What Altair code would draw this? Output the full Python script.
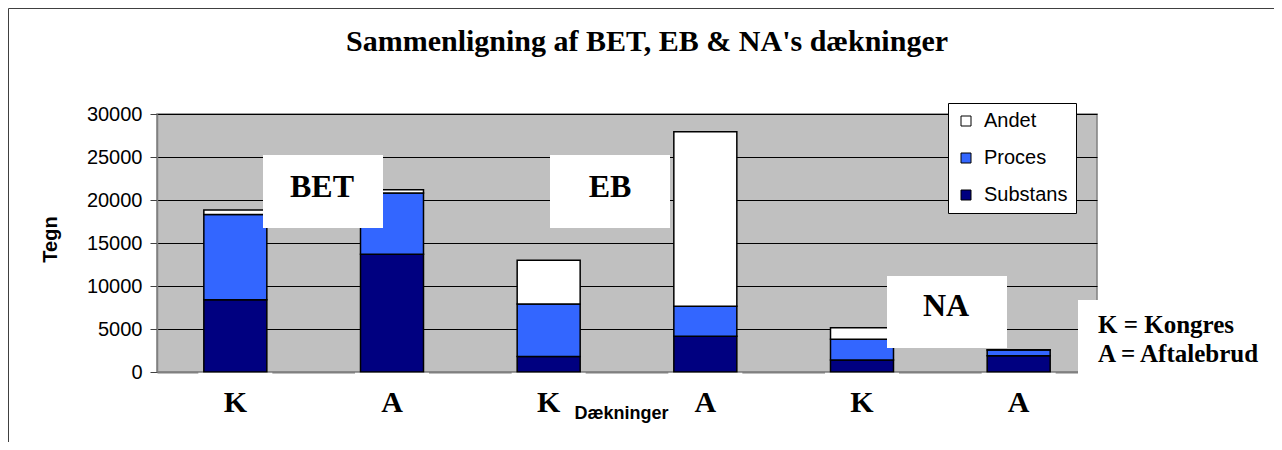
import altair as alt
import pandas as pd

# ---- data ----
groups = ["BET", "BET", "EB", "EB", "NA", "NA"]
kinds = ["K", "A", "K", "A", "K", "A"]
substans = [8400, 13700, 1800, 4150, 1400, 1900]
proces = [9900, 7100, 6100, 3500, 2400, 650]
andet = [550, 400, 5100, 20300, 1350, 50]
series = ["Substans", "Proces", "Andet"]
legend_order = ["Andet", "Proces", "Substans"]
legend_colors = ["#FFFFFF", "#3366FF", "#000080"]
y_ticks = [0, 5000, 10000, 15000, 20000, 25000, 30000]
group_labels = ["BET", "EB", "NA"]
key_lines = ["K = Kongres", "A = Aftalebrud"]
title_text = "Sammenligning af BET, EB & NA's dækninger"

cats = [f"{g}-{k}" for g, k in zip(groups, kinds)]
rows = []
for i, c in enumerate(cats):
    for j, (s, vals) in enumerate(zip(series, [substans, proces, andet])):
        rows.append({"cat": c, "serie": s, "value": vals[i], "ord": j})
df = pd.DataFrame(rows)
one = pd.DataFrame({"a": [0]})

SERIF = "Liberation Serif"
SANS = "Liberation Sans"

x_enc = alt.X(
    "cat:N",
    sort=cats,
    scale=alt.Scale(domain=cats, paddingInner=0, paddingOuter=0),
    axis=alt.Axis(
        title="Dækninger",
        titleFont=SANS, titleFontSize=18, titleFontWeight="bold", titleColor="black",
        titleX=464, titleY=41, titleBaseline="middle", titleAlign="center",
        labelExpr="slice(datum.value, -1)",
        labelFont=SERIF, labelFontSize=30, labelFontWeight="bold", labelColor="black",
        labelAngle=0, labelPadding=15,
        ticks=False, tickSize=0, grid=False,
        domainColor="#808080", domainWidth=2,
    ),
)

bars = alt.Chart(df).mark_bar(size=63, stroke="black", strokeWidth=1.5).encode(
    x=x_enc,
    y=alt.Y(
        "value:Q",
        stack="zero",
        scale=alt.Scale(domain=[0, 30000], nice=False),
        axis=alt.Axis(
            values=y_ticks, format="d",
            title="Tegn",
            titleFont=SANS, titleFontSize=20, titleFontWeight="bold", titleColor="black",
            titleX=-107, titleY=125, titleAngle=270, titleBaseline="middle", titleAlign="center",
            labelFont=SANS, labelFontSize=20, labelColor="black", labelPadding=8,
            tickSize=7, tickColor="#404040",
            grid=True, gridColor="#000000", gridWidth=1,
            domainColor="#808080", domainWidth=1.5,
        ),
    ),
    color=alt.Color(
        "serie:N",
        scale=alt.Scale(domain=legend_order, range=legend_colors),
        legend=alt.Legend(
            title=None, orient="none", legendX=791, legendY=-11,
            fillColor="white", strokeColor="black", padding=8,
            symbolType="square", symbolSize=100, symbolStrokeColor="black",
            symbolStrokeWidth=1, labelFont=SANS, labelFontSize=20,
            labelColor="black", rowPadding=17, labelOffset=8,
        ),
    ),
    order=alt.Order("ord:Q", sort="ascending"),
)

# white label boxes that cut the axis line under each bar
axis_boxes = alt.Chart(pd.DataFrame({"cat": cats})).mark_bar(size=74, color="white").encode(
    x=x_enc, y=alt.value(258.8), y2=alt.value(262)
)

def box(x1, x2, y1, y2):
    return alt.Chart(one).mark_rect(color="white").encode(
        x=alt.value(x1), x2=alt.value(x2), y=alt.value(y1), y2=alt.value(y2)
    )

def label(txt, x, y, size, font=SERIF, align="center"):
    return alt.Chart(one).mark_text(
        text=txt, font=font, fontSize=size, fontWeight="bold", color="black",
        align=align, baseline="alphabetic",
    ).encode(x=alt.value(x), y=alt.value(y))

annots = [
    box(106, 226, 41, 114), label(group_labels[0], 165, 83, 32),
    box(393, 513, 41, 114), label(group_labels[1], 453, 83, 32),
    box(730, 850, 162, 234), label(group_labels[2], 789, 202, 32),
    box(921, 1118, 186, 271),
    label(key_lines[0], 941, 219, 25, align="left"),
    label(key_lines[1], 941, 248, 25, align="left"),
    label(title_text, 490, -63, 30),
]

border = alt.Chart(one).mark_rect(fillOpacity=0, stroke="#404040", strokeWidth=1).encode(
    x=alt.value(-148.5), x2=alt.value(1300), y=alt.value(-105.5), y2=alt.value(420)
)

chart = alt.layer(bars, axis_boxes, *annots, border).properties(
    width=940, height=258,
    autosize=alt.AutoSizeParams(type="none"),
    padding={"left": 149, "top": 106, "right": 177, "bottom": 70},
    background="white",
).configure_view(fill="#C0C0C0", stroke="#808080", strokeWidth=1.5)

chart.save("out.html", embed_options={"renderer": "svg", "actions": False})
